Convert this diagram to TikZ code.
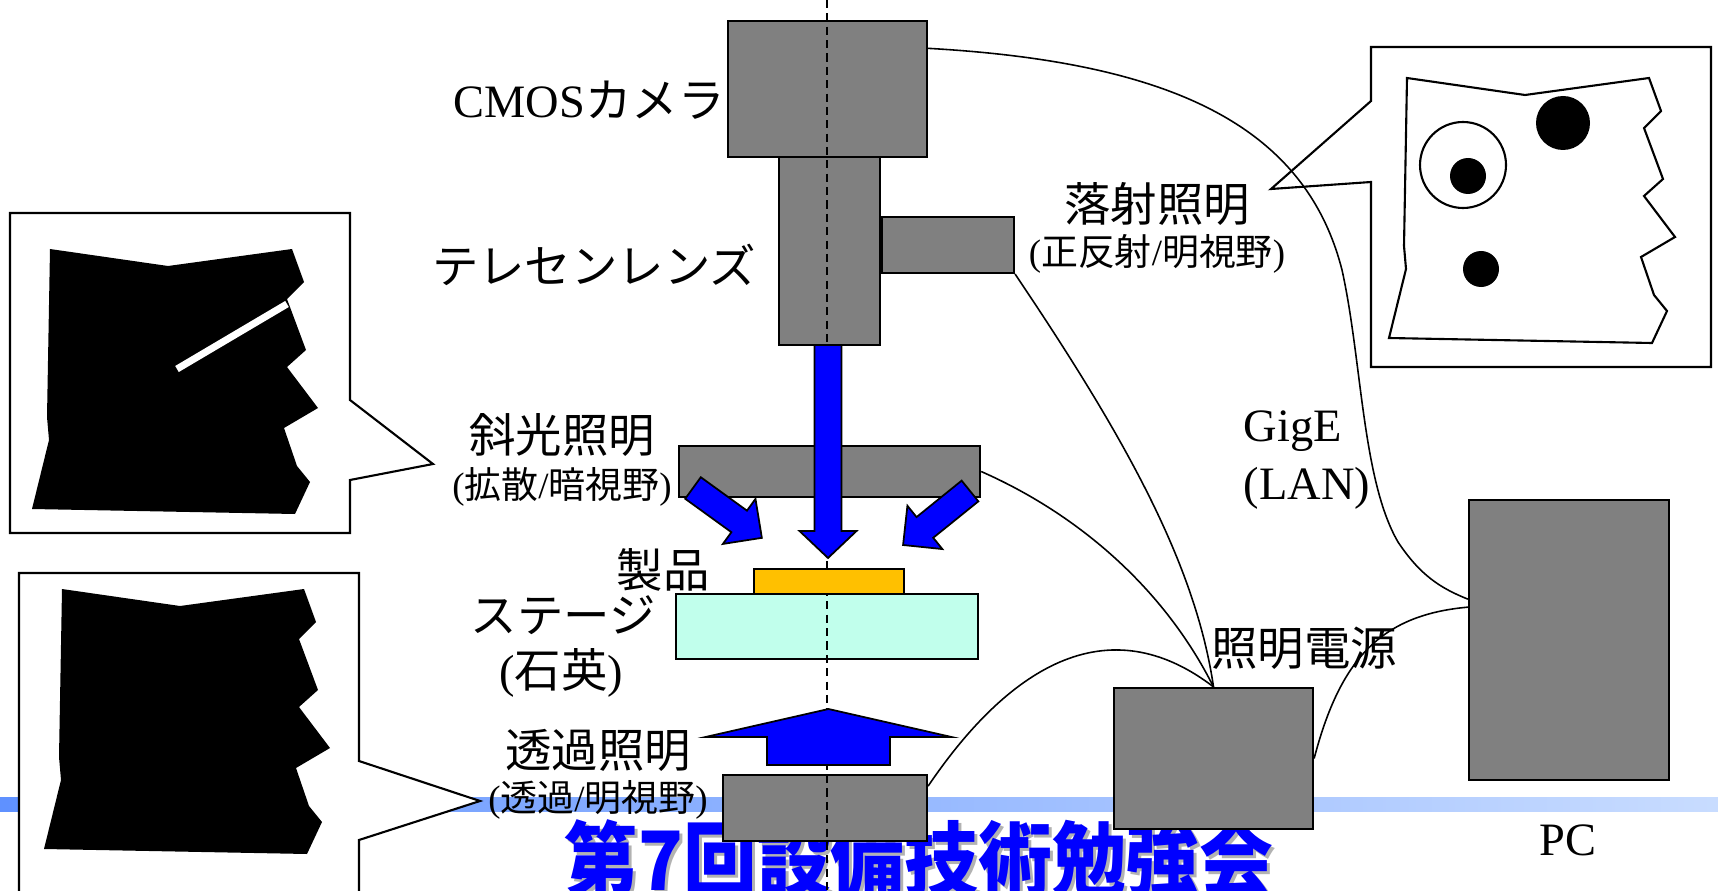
\documentclass[tikz,border=0pt]{standalone}
\usepackage{fontspec}
\setmainfont{Liberation Serif}
\newfontfamily\jp{Noto Sans CJK JP}
\newfontfamily\jptitle{Noto Sans CJK JP}[FakeStretch=0.9]

\newcommand\lblfont{\fontsize{13.2}{15}\selectfont}
\newcommand\subfont{\fontsize{10.5}{12}\selectfont}
\newcommand\titlefont{\fontsize{23.3}{26}\selectfont\jptitle\bfseries}

\definecolor{unitgray}{RGB}{128,128,128}
\definecolor{quartz}{RGB}{193,255,236}
\definecolor{workpiece}{RGB}{255,192,0}
\definecolor{bandleft}{RGB}{95,145,255}
\definecolor{bandmid}{RGB}{170,200,255}
\definecolor{bandright}{RGB}{200,220,255}

% block arrow for the light: tail, angle, length, shaft half width, head half width, head length
\newcommand\lightbeam[6]{%
  \draw [beam, shift={#1}, rotate=#2] (0,-#4) -- ({#3-#6},-#4) -- ({#3-#6},-#5)
    -- (#3,0) -- ({#3-#6},#5) -- ({#3-#6},#4) -- (0,#4) -- cycle;}

\begin{document}
\begin{tikzpicture}[
   x=0.01cm, y=-0.01cm,
   unit/.style={draw, line width=0.6pt, fill=unitgray, inner sep=0pt},
   callout/.style={draw, line width=0.6pt, fill=white},
   cable/.style={line width=0.45pt},
   beam/.style={draw, line width=0.5pt, fill=blue},
   optaxis/.style={line width=0.6pt, dash pattern=on 2.3pt off 1.5pt},
   lbl/.style={inner sep=0pt, font=\lblfont},
   sub/.style={inner sep=0pt, font=\subfont},
   sample/.pic={
     \path [pic actions] (50,249) -- (168,266) -- (292,249) -- (304,282) -- (287,299)
       -- (306,350) -- (287,367) -- (318,408) -- (284,428) -- (297,466) -- (310,482)
       -- (295,514) -- (32,509) -- (49,440) -- (47,417) -- cycle;
   }
  ]
  \useasboundingbox (0,0) rectangle (1718,891);
  \clip (0,0) rectangle (1718,891);

  % slide band and title
  \shade [left color=bandleft, middle color=bandmid, right color=bandright] (0,797) rectangle (1718,811);
  \node [font=\titlefont, text=black!30, anchor=base west, inner sep=0pt] (titleshade) at (567,893) {第7回設備技術勉強会};
  \node [font=\titlefont, text=blue, anchor=base west, inner sep=0pt] (title) at (564,890) {第7回設備技術勉強会};

  % images of the part
  \draw [callout] (10,213) -- (350,213) -- (350,400) -- (433,464) -- (350,480) -- (350,533) -- (10,533) -- cycle;
  \pic [fill=black] at (0,0) {sample};
  \draw [white, line width=2pt] (177,369) -- (287,304);% scratch

  \draw [callout] (19,573) -- (359,573) -- (359,761) -- (480,801) -- (359,840) -- (359,893) -- (19,893) -- cycle;
  \pic [fill=black] at (12,340) {sample};

  \draw [callout] (1371,47) -- (1711,47) -- (1711,367) -- (1371,367) -- (1371,182) -- (1271,189) -- (1371,101) -- cycle;
  \pic [draw, line width=0.6pt, fill=white] at (1357,-171) {sample};
  \fill (1563,123) circle [radius=27];
  \draw [line width=0.6pt] (1463,165) circle [radius=43];
  \fill (1468,176) circle [radius=18];
  \fill (1481,269) circle [radius=18];

  % units
  \node [unit, minimum width=1.99cm, minimum height=1.36cm] (cam) at (827.5,89) {};
  \node [unit, minimum width=1.01cm, minimum height=1.88cm] (lens) at (829.5,251) {};
  \node [unit, minimum width=1.32cm, minimum height=0.56cm] (coax) at (948,245) {};
  \node [unit, minimum width=3.01cm, minimum height=0.51cm] (ring) at (829.5,471.5) {};
  \node [unit, minimum width=2.04cm, minimum height=0.66cm] (trans) at (825,808) {};
  \node [unit, minimum width=1.99cm, minimum height=1.41cm] (psu) at (1213.5,758.5) {};
  \node [unit, minimum width=2.00cm, minimum height=2.80cm] (pc) at (1569,640) {};
  \node [draw, line width=0.6pt, fill=quartz, inner sep=0pt, minimum width=3.02cm, minimum height=0.65cm] (stage) at (827,626.5) {};

  % cables
  \draw [cable] (cam.22) .. controls (1170,62) and (1305,125) .. (1342,270)
     .. controls (1362,360) and (1362,480) .. (1398,542)
     .. controls (1420,575) and (1440,588) .. (pc.158);
  \draw [cable] (coax.south east) .. controls (1120,430) and (1195,560) .. (psu.north);
  \draw [cable] (ring.east) .. controls (1080,515) and (1165,590) .. (psu.north);
  \draw [cable] (trans.12) .. controls (1000,680) and (1100,600) .. (psu.north);
  \draw [cable] (psu.east) .. controls (1340,660) and (1380,615) .. (pc.162);

  \draw [optaxis] (827,0) -- (827,891);

  \node [draw, line width=0.6pt, fill=workpiece, inner sep=0pt, minimum width=1.50cm, minimum height=0.25cm] (work) at (829,581.5) {};

  % light
  \lightbeam{(828,345)}{-90}{213}{13.5}{28.5}{27}
  \lightbeam{(693,488)}{-35.9}{85}{13.3}{27.8}{28}
  \lightbeam{(970,491)}{-141.1}{86}{13.3}{27.8}{28}
  \lightbeam{(828.5,765)}{90}{56}{61.5}{123}{28}

  % labels
  \node [lbl] (camtxt) at (589,100) {CMOS{\jp カメラ}};
  \node [lbl] (lenstxt) at (594,265) {\jp テレセンレンズ};
  \node [lbl] (ringtxt) at (562,435) {\jp 斜光照明};
  \node [sub] (ringsub) at (562,487) {({\jp 拡散}/{\jp 暗視野})};
  \node [lbl] (worktxt) at (663,570) {\jp 製品};
  \node [lbl] (stagetxt) at (563,615) {\jp ステージ};
  \node [lbl] (stagesub) at (561,673) {({\jp 石英})};
  \node [lbl] (transtxt) at (598,750) {\jp 透過照明};
  \node [sub] (transsub) at (598,800) {({\jp 透過}/{\jp 明視野})};
  \node [lbl] (coaxtxt) at (1157,204) {\jp 落射照明};
  \node [sub] (coaxsub) at (1157,254) {({\jp 正反射}/{\jp 明視野})};
  \node [lbl, anchor=west] (gigetxt) at (1243,431) {GigE};
  \node [lbl, anchor=west] (lantxt) at (1243,488) {(LAN)};
  \node [lbl] (psutxt) at (1304,648) {\jp 照明電源};
  \node [lbl] (pctxt) at (1568,840) {PC};
\end{tikzpicture}
\end{document}
